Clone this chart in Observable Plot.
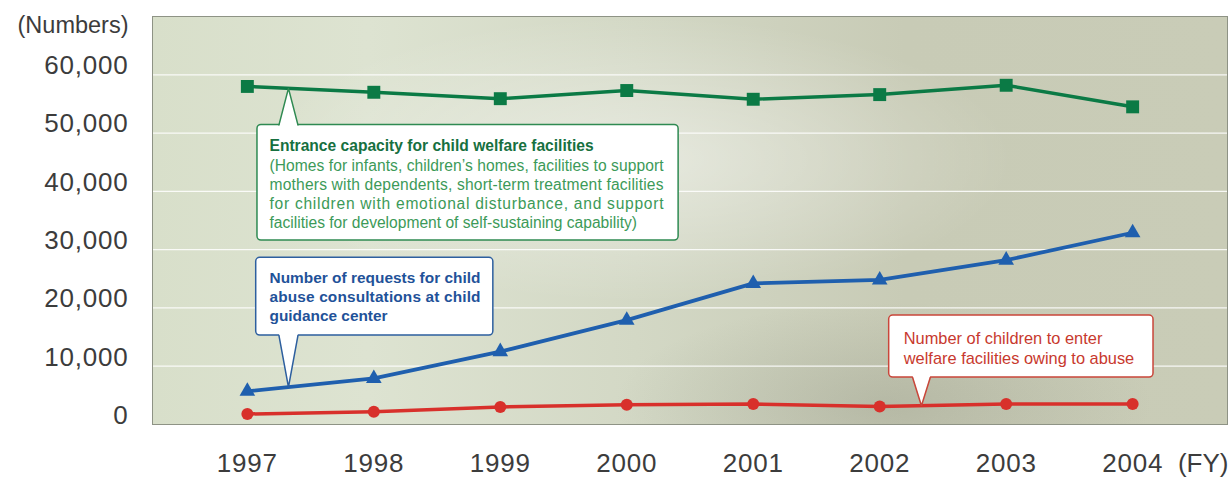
<!DOCTYPE html>
<html>
<head>
<meta charset="utf-8">
<script src="https://cdn.jsdelivr.net/npm/d3@7"></script>
<script src="https://cdn.jsdelivr.net/npm/@observablehq/plot@0.6"></script>
<style>
  html, body { margin: 0; padding: 0; background: #ffffff; }
  #chart svg { display: block; }
</style>
</head>
<body>
<div id="chart"></div>
<script>
// ---------------- data ----------------
const years = [1997, 1998, 1999, 2000, 2001, 2002, 2003, 2004];
const capacity = [58000, 57000, 55900, 57300, 55800, 56600, 58200, 54500];
const consultations = [5700, 7900, 12500, 17900, 24200, 24800, 28200, 32900];
const abuseEntries = [1800, 2200, 3000, 3400, 3500, 3100, 3500, 3500];
const yTicks = [0, 10000, 20000, 30000, 40000, 50000, 60000];
const xTicks = years;

const greenTitle = "Entrance capacity for child welfare facilities";
const greenBody = [
  "(Homes for infants, children’s homes, facilities to support",
  "mothers with dependents, short-term treatment facilities",
  "for children with emotional disturbance, and support",
  "facilities for development of self-sustaining capability)"
];
const blueText = [
  "Number of requests for child",
  "abuse consultations at child",
  "guidance center"
];
const redText = [
  "Number of children to enter",
  "welfare facilities owing to abuse"
];

// ---------------- helpers ----------------
const rows = (vals) => years.map((year, i) => ({year, value: vals[i]}));
const interp = (vals, x) => {
  const i = Math.max(0, Math.min(years.length - 2, Math.floor(x - years[0])));
  const t = (x - years[i]) / (years[i + 1] - years[i]);
  return vals[i] + t * (vals[i + 1] - vals[i]);
};

const GREEN = "#0b7a45", BLUE = "#1f5fae", RED = "#d8302b";

// callout layout (data units)
const callouts = [
  {vals: capacity, color: "#2f8a52", box: {x1: 1997.08, x2: 2000.41, y1: 31550, y2: 51400},
   base: [1997.25, 1997.40], apex: 1997.325, side: "top"},
  {vals: consultations, color: "#2d5f9f", box: {x1: 1997.07, x2: 1998.945, y1: 15250, y2: 28600},
   base: [1997.25, 1997.40], apex: 1997.325, side: "bottom"},
  {vals: abuseEntries, color: "#c9463a", box: {x1: 2002.075, x2: 2004.165, y1: 8050, y2: 18700},
   base: [2002.26, 2002.40], apex: 2002.33, side: "bottom"}
];

function calloutMarks(c) {
  const edge = c.side === "top" ? c.box.y2 : c.box.y1;
  const inset = c.side === "top" ? -260 : 260;
  const apexY = interp(c.vals, c.apex);
  const fillPts = [
    {x: c.base[0], y: edge + inset},
    {x: c.apex, y: apexY},
    {x: c.base[1], y: edge + inset}
  ];
  const sidePts = [
    {x: c.base[0], y: edge},
    {x: c.apex, y: apexY},
    {x: c.base[1], y: edge}
  ];
  return [
    Plot.rect([c.box], {x1: "x1", x2: "x2", y1: "y1", y2: "y2", fill: "white", stroke: c.color, strokeWidth: 1.5, rx: 4}),
    Plot.line(fillPts, {x: "x", y: "y", fill: "white", stroke: "none"}),
    Plot.line(sidePts, {x: "x", y: "y", stroke: c.color, strokeWidth: 1.5, strokeLinejoin: "miter"})
  ];
}

const chart = Plot.plot({
  width: 1231,
  height: 477,
  marginLeft: 152,
  marginRight: 4,
  marginTop: 16,
  marginBottom: 53,
  style: {fontFamily: "'Liberation Sans', Arial, Helvetica, sans-serif", background: "white", overflow: "visible"},
  x: {type: "linear", domain: [1996.25, 2004.75]},
  y: {domain: [0, 70000]},
  marks: [
    Plot.frame({fill: "#d6dbc8"}),
    Plot.frame({fill: "#ffffff", fillOpacity: 0}),
    Plot.frame({fill: "#ffffff", fillOpacity: 0}),
    Plot.gridY(yTicks.slice(1), {stroke: "#ffffff", strokeOpacity: 0.85, strokeWidth: 1.3}),
    Plot.frame({stroke: "#8e9385", strokeWidth: 1}),
    Plot.axisY(yTicks, {tickSize: 0, tickPadding: 24, dy: -9, fontSize: 26, fill: "#3c3c3c",
      tickFormat: d3.format(","), label: null}),
    Plot.axisX(xTicks, {tickSize: 0, tickPadding: 29, fontSize: 26, fill: "#3c3c3c",
      tickFormat: d => String(d), label: null}),
    Plot.text(["(Numbers)"], {frameAnchor: "top-left", dx: -24, dy: 9, textAnchor: "end", lineAnchor: "middle",
      fontSize: 23.5, fill: "#3c3c3c"}),
    Plot.text(["(FY)"], {frameAnchor: "bottom-right", dx: 1, dy: 39, textAnchor: "end", lineAnchor: "middle",
      fontSize: 26, fill: "#3c3c3c"}),

    // series
    Plot.line(rows(capacity), {x: "year", y: "value", stroke: GREEN, strokeWidth: 3.5}),
    Plot.line(rows(consultations), {x: "year", y: "value", stroke: BLUE, strokeWidth: 3.8}),
    Plot.line(rows(abuseEntries), {x: "year", y: "value", stroke: RED, strokeWidth: 3.5}),

    // callouts
    ...callouts.flatMap(calloutMarks),

    Plot.dot(rows(capacity), {x: "year", y: "value", symbol: "square", r: 7.3, fill: GREEN}),
    Plot.dot(rows(consultations), {x: "year", y: "value", symbol: "triangle", r: 5.8, fill: BLUE}),
    Plot.dot(rows(abuseEntries), {x: "year", y: "value", symbol: "circle", r: 6, fill: RED}),

    Plot.text([greenTitle], {x: 1997.175, y: 47700, text: d => d, textAnchor: "start",
      fontSize: 15.6, fontWeight: "bold", fill: "#17703f"}),
    Plot.text([greenBody.join("\n")], {x: 1997.175, y: 39650, text: d => d, textAnchor: "start",
      fontSize: 15.6, lineHeight: 1.22, fill: "#3c9a58"}),
    Plot.text([blueText.join("\n")], {x: 1997.175, y: 22050, text: d => d, textAnchor: "start",
      fontSize: 15.4, lineHeight: 1.23, fontWeight: "bold", fill: "#1f5299"}),
    Plot.text([redText.join("\n")], {x: 2002.19, y: 13200, text: d => d, textAnchor: "start",
      fontSize: 16.4, lineHeight: 1.22, fill: "#c8392e"})
  ]
});

// ---------------- background gradients & justification ----------------
const svg = d3.select(chart);
const defs = svg.insert("defs", ":first-child");
const lin = defs.append("linearGradient").attr("id", "bgLin").attr("x1", 0).attr("y1", 0).attr("x2", 1).attr("y2", 0);
[[0, "#d8dfca"], [0.2, "#dde3d1"], [0.45, "#d3d8c5"], [0.7, "#c8cbb6"], [1, "#c9ccb7"]]
  .forEach(([o, c]) => lin.append("stop").attr("offset", o).attr("stop-color", c));
const rad = defs.append("radialGradient").attr("id", "bgRad").attr("cx", 0.45).attr("cy", 0.35).attr("r", 0.35);
rad.append("stop").attr("offset", 0).attr("stop-color", "#ffffff").attr("stop-opacity", 0.45);
rad.append("stop").attr("offset", 1).attr("stop-color", "#ffffff").attr("stop-opacity", 0);
const rad2 = defs.append("radialGradient").attr("id", "bgDark").attr("cx", 0.68).attr("cy", 0.95).attr("r", 0.25);
rad2.append("stop").attr("offset", 0).attr("stop-color", "#7d8070").attr("stop-opacity", 0.25);
rad2.append("stop").attr("offset", 1).attr("stop-color", "#7d8070").attr("stop-opacity", 0);

const frames = [];
chart.querySelectorAll('[aria-label="frame"]').forEach(el => {
  if (el.tagName.toLowerCase() === "rect") frames.push(el);
  else el.querySelectorAll("rect").forEach(r => frames.push(r));
});
if (frames[0]) frames[0].setAttribute("fill", "url(#bgLin)");
if (frames[1]) { frames[1].setAttribute("fill", "url(#bgRad)"); frames[1].removeAttribute("fill-opacity"); }
if (frames[2]) { frames[2].setAttribute("fill", "url(#bgDark)"); frames[2].removeAttribute("fill-opacity"); }

// slightly wider tick digits, as in the original typeface
chart.querySelectorAll('[aria-label="y-axis tick label"] text, [aria-label="x-axis tick label"] text')
  .forEach(el => el.style.letterSpacing = "0.8px");

const justify = new Map();
greenBody.slice(0, -1).forEach(l => justify.set(l, 394));
blueText.slice(0, -1).forEach(l => justify.set(l, 211));
chart.querySelectorAll("text, tspan").forEach(el => {
  if (el.children.length === 0 && justify.has(el.textContent)) {
    el.setAttribute("textLength", justify.get(el.textContent));
    el.setAttribute("lengthAdjust", "spacing");
  }
});

document.getElementById("chart").appendChild(chart);
</script>
</body>
</html>
